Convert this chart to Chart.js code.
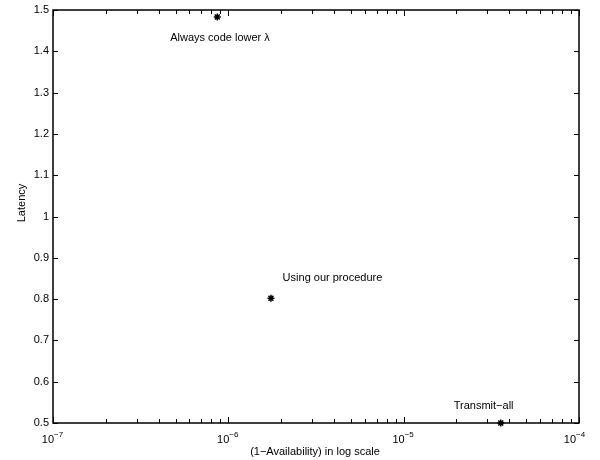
<!DOCTYPE html>
<html>
<head>
<meta charset="utf-8">
<script src="https://cdn.jsdelivr.net/npm/chart.js@4.4.1/dist/chart.umd.min.js"></script>
<style>
  html, body { margin: 0; padding: 0; background: #fff; }
  #wrap { width: 600px; height: 460px; }
</style>
</head>
<body>
<div id="wrap"><canvas id="c"></canvas></div>
<script>
// Latency vs (1 - availability), three operating points.

const pointNames = ['Always code lower \u03bb', 'Using our procedure', 'Transmit\u2212all'];
const unavail = [8.65e-7, 1.75e-6, 3.58e-5];
const latency = [1.483, 0.802, 0.5];
// where each text label sits (data coords, left edge / vertical middle)
const labelX = [4.66e-7, 2.04e-6, 1.93e-5];
const labelY = [1.432, 0.851, 0.541];

const xTicks = [1e-7, 1e-6, 1e-5, 1e-4];
const xTickExp = ['\u22127', '\u22126', '\u22125', '\u22124'];
const yTicks = [0.5, 0.6, 0.7, 0.8, 0.9, 1, 1.1, 1.2, 1.3, 1.4, 1.5];

const FONT = '"Liberation Sans", Arial, Helvetica, sans-serif';

const frame = {
  id: 'frame',
  afterDatasetsDraw(chart) {
    const { ctx, chartArea: a, scales: { x, y } } = chart;
    ctx.save();
    ctx.strokeStyle = '#000';
    ctx.fillStyle = '#000';

    // inside ticks, all four sides
    ctx.lineWidth = 1;
    ctx.beginPath();
    for (let d = 0; d < xTicks.length; d++) {
      const px = Math.round(x.getPixelForValue(xTicks[d])) + 0.5;
      ctx.moveTo(px, a.bottom); ctx.lineTo(px, a.bottom - 6);
      ctx.moveTo(px, a.top); ctx.lineTo(px, a.top + 6);
      if (d < xTicks.length - 1) {
        for (let m = 2; m <= 9; m++) {
          const mx = Math.round(x.getPixelForValue(xTicks[d] * m)) + 0.5;
          ctx.moveTo(mx, a.bottom); ctx.lineTo(mx, a.bottom - 4);
          ctx.moveTo(mx, a.top); ctx.lineTo(mx, a.top + 4);
        }
      }
    }
    yTicks.forEach(v => {
      const py = Math.round(y.getPixelForValue(v)) + 0.5;
      ctx.moveTo(a.left, py); ctx.lineTo(a.left + 5, py);
      ctx.moveTo(a.right, py); ctx.lineTo(a.right - 5, py);
    });
    ctx.stroke();

    // box
    ctx.lineWidth = 1.5;
    ctx.strokeRect(a.left, a.top, a.right - a.left, a.bottom - a.top);

    // y tick labels
    ctx.font = '11px ' + FONT;
    ctx.textAlign = 'right';
    ctx.textBaseline = 'middle';
    yTicks.forEach(v => {
      const py = y.getPixelForValue(v);
      const s = Number.isInteger(v) ? String(v) : v.toFixed(1);
      ctx.fillText(s, a.left - 4, py);
    });

    // x tick labels with superscript exponent
    xTicks.forEach((v, i) => {
      const px = x.getPixelForValue(v);
      const shift = i === xTicks.length - 1 ? -4 : 0;
      ctx.font = '11px ' + FONT;
      ctx.textAlign = 'right';
      ctx.textBaseline = 'alphabetic';
      ctx.fillText('10', px + 1 + shift, a.bottom + 20);
      ctx.font = '8px ' + FONT;
      ctx.textAlign = 'left';
      ctx.fillText(xTickExp[i], px + 1 + shift, a.bottom + 14);
    });

    // axis titles
    ctx.font = '11px ' + FONT;
    ctx.textAlign = 'center';
    ctx.textBaseline = 'alphabetic';
    ctx.fillText('(1\u2212Availability) in log scale', (a.left + a.right) / 2 - 1, a.bottom + 32);
    ctx.save();
    ctx.translate(22, 203);
    ctx.rotate(-Math.PI / 2);
    ctx.textBaseline = 'middle';
    ctx.fillText('Latency', 0, 0);
    ctx.restore();

    // point annotations
    ctx.textAlign = 'left';
    ctx.textBaseline = 'middle';
    pointNames.forEach((t, i) => {
      ctx.fillText(t, x.getPixelForValue(labelX[i]), y.getPixelForValue(labelY[i]));
    });
    ctx.restore();
  }
};

new Chart(document.getElementById('c'), {
  type: 'scatter',
  data: {
    datasets: [{
      data: unavail.map((v, i) => ({ x: v, y: latency[i] })),
      pointStyle: 'star',
      radius: 3.5,
      borderColor: '#000',
      backgroundColor: '#000',
      borderWidth: 1.5,
      clip: false
    }]
  },
  options: {
    responsive: true,
    maintainAspectRatio: false,
    animation: false,
    layout: { padding: { top: 10, right: 21, left: 0, bottom: 0 } },
    plugins: { legend: { display: false }, tooltip: { enabled: false } },
    scales: {
      x: {
        type: 'logarithmic',
        min: 1e-7,
        max: 1e-4,
        grid: { display: false },
        border: { display: false },
        ticks: { display: false },
        afterFit(s) { s.height = 37; }
      },
      y: {
        min: 0.5,
        max: 1.5,
        grid: { display: false },
        border: { display: false },
        ticks: { display: false },
        afterFit(s) { s.width = 53; }
      }
    }
  },
  plugins: [frame]
});
</script>
</body>
</html>
